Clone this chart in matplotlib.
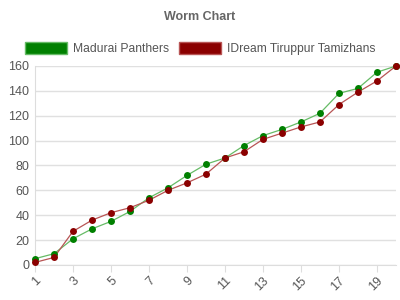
import matplotlib
matplotlib.use("Agg")
import matplotlib.pyplot as plt
from matplotlib.patches import Patch

overs = list(range(1, 21))
madurai = [5, 9, 21, 29, 35, 43, 54, 62, 72, 81, 86, 96, 104, 109, 115, 122, 138, 142, 155, 160]
tiruppur = [2, 6, 27, 36, 42, 46, 52, 60, 66, 73, 86, 91, 101, 106, 111, 115, 129, 139, 148, 160]
teams = ["Madurai Panthers", "IDream Tiruppur Tamizhans"]
colores = ["#008000", "#8b0000"]
lineas = ["#66bb66", "#b85555"]

plt.rcParams['font.family'] = ['Liberation Sans', 'DejaVu Sans']

fig = plt.figure(figsize=(4, 3), dpi=100)
ax = fig.add_axes([0.0875, 0.117, 0.9025, 0.663])

for datos, c, lc in zip([madurai, tiruppur], colores, lineas):
    ax.plot(overs, datos, '-', color=lc, linewidth=0.9, zorder=3, clip_on=False)
    ax.plot(overs, datos, 'o', color=c, markersize=5, markeredgewidth=0, zorder=4, clip_on=False)

ax.set_xlim(1, 20)
ax.set_ylim(0, 160)
ax.set_yticks(range(0, 161, 20))
ax.set_xticks(range(1, 20, 2))
ax.set_xticklabels([str(i) for i in range(1, 20, 2)], rotation=45, ha='right', rotation_mode='anchor')
ax.grid(True, axis='y', color='#e0e0e0', linewidth=1)
ax.set_axisbelow(True)
for s in ['top', 'right']:
    ax.spines[s].set_visible(False)
ax.spines['left'].set_color('#dddddd')
ax.spines['bottom'].set_color('#dddddd')
ax.tick_params(axis='y', length=0, labelsize=9, labelcolor='#555555', pad=4)
ax.tick_params(axis='x', length=5, color='#dddddd', labelsize=9, labelcolor='#555555', pad=2)

fig.text(0.5, 0.943, "Worm Chart", ha='center', va='center', fontsize=9, fontweight='bold', color='#666666')
handles = [Patch(facecolor=c, edgecolor=lc, label=t) for t, c, lc in zip(teams, colores, lineas)]
fig.legend(handles=handles, loc='center', bbox_to_anchor=(0.5, 0.837), ncol=2, frameon=False,
           fontsize=8.7, handlelength=3.5, handleheight=1.1, columnspacing=0.8, handletextpad=0.5,
           labelcolor='#555555')

fig.savefig("out.png", dpi=100)
